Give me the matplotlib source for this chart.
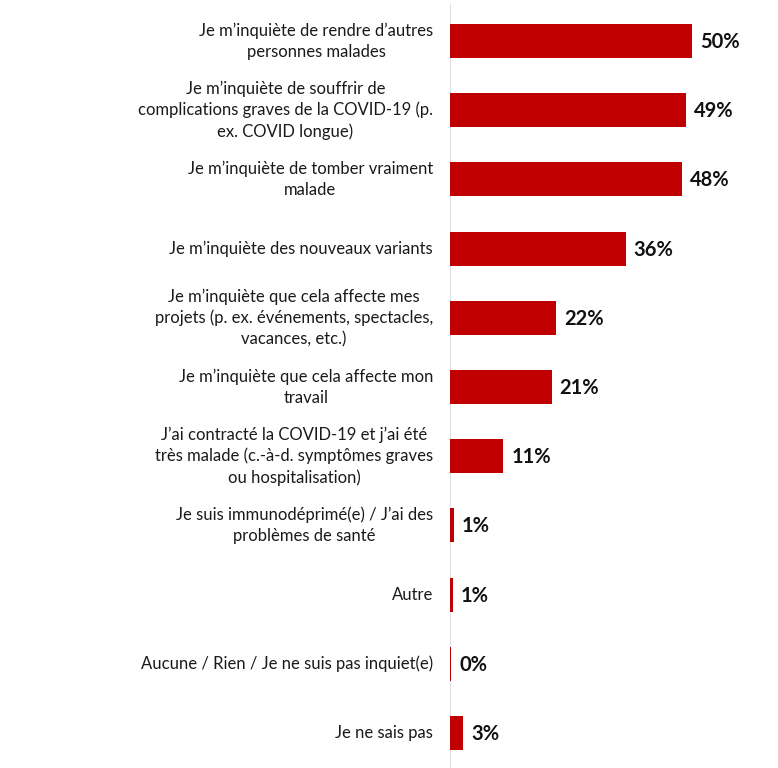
import matplotlib
matplotlib.use("Agg")
import matplotlib.pyplot as plt
from matplotlib.transforms import offset_copy

plt.rcParams["font.family"] = ["Lato", "DejaVu Sans"]

categories = [
    "Je m\u2019inquiète de rendre d\u2019autres\npersonnes malades",
    "Je m\u2019inquiète de souffrir de\ncomplications graves de la COVID-19 (p.\nex. COVID longue)",
    "Je m\u2019inquiète de tomber vraiment\nmalade",
    "Je m\u2019inquiète des nouveaux variants",
    "Je m\u2019inquiète que cela affecte mes\nprojets (p. ex. événements, spectacles,\nvacances, etc.)",
    "Je m\u2019inquiète que cela affecte mon\ntravail",
    "J\u2019ai contracté la COVID-19 et j\u2019ai été\ntrès malade (c.-à-d. symptômes graves\nou hospitalisation)",
    "Je suis immunodéprimé(e) / J\u2019ai des\nproblèmes de santé",
    "Autre",
    "Aucune / Rien / Je ne suis pas inquiet(e)",
    "Je ne sais pas",
]
values = [50, 48.8, 48, 36.3, 22, 21, 11, 0.8, 0.6, 0.3, 2.7]
value_labels = ["50%", "49%", "48%", "36%", "22%", "21%", "11%", "1%", "1%", "0%", "3%"]

fig = plt.figure(figsize=(7.78, 7.68), dpi=100)
ax = fig.add_axes([450 / 778, 0, 1 - 450 / 778, 1])

ypos = list(range(len(categories)))
ax.barh(ypos, values, height=0.49, color="#C00000")

ax.set_xlim(0, (778 - 450) / 4.84)
ax.set_ylim(10.506, -0.592)
ax.axvline(0, ymin=0, ymax=0.993, color="#D9D9D9", linewidth=1.2, zorder=0)

for s in ax.spines.values():
    s.set_visible(False)
ax.set_xticks([])
ax.set_yticks([])

lab_tr = offset_copy(ax.transData, fig=fig, x=-17, y=0, units="dots")
for y, cat in zip(ypos, categories):
    ax.text(0, y, cat, transform=lab_tr, ha="right", va="center",
            multialignment="center", fontsize=12, color="#1a1a1a",
            linespacing=1.38, clip_on=False)

val_tr = offset_copy(ax.transData, fig=fig, x=8, y=-1, units="dots")
for y, v, lab in zip(ypos, values, value_labels):
    ax.text(v, y, lab, transform=val_tr, ha="left", va="center",
            fontsize=14.5, fontweight="bold", color="#111111")

fig.savefig("out.png", dpi=100)
